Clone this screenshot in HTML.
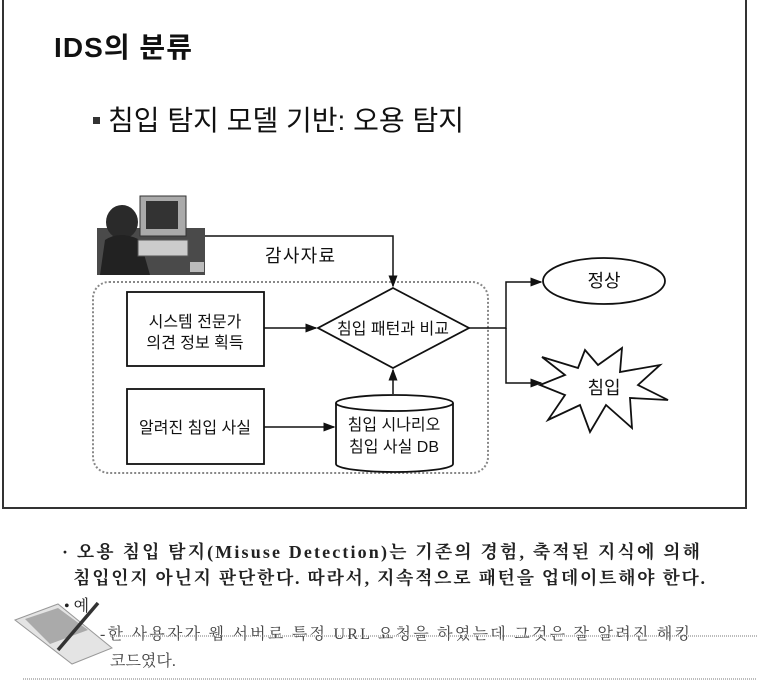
<!DOCTYPE html>
<html><head><meta charset="utf-8"><style>
body{margin:0;background:#fff;width:780px;height:690px;overflow:hidden;position:relative;font-family:"Liberation Sans","Noto Sans CJK KR",sans-serif;}
.a{position:absolute;white-space:nowrap;}
</style></head><body>
<div class="a" style="left:2px;top:-2px;width:741px;height:509px;border:2px solid #333;border-top:none;"></div>
<svg class="a" style="left:0;top:0" width="780" height="690" font-family="Liberation Sans, Noto Sans CJK KR, sans-serif">
<defs><marker id="ar" markerWidth="8" markerHeight="8" refX="7" refY="4" orient="auto"><path d="M0,1 L8,4 L0,7z" fill="#111"/></marker></defs>
<text x="54" y="57" font-size="28" font-weight="bold" fill="#111" textLength="138">IDS의 분류</text>
<rect x="93" y="117" width="7" height="7" fill="#333"/>
<text x="108" y="130" font-size="28" fill="#111" textLength="356">침입 탐지 모델 기반: 오용 탐지</text>
<rect x="97" y="228" width="108" height="47" fill="#4a4a4a"/>
<rect x="140" y="196" width="46" height="40" fill="#aaa" stroke="#333"/>
<rect x="146" y="201" width="32" height="28" fill="#333"/>
<ellipse cx="122" cy="222" rx="16" ry="17" fill="#2a2a2a"/>
<path d="M100,275 L105,240 Q120,230 140,240 L150,275z" fill="#222"/>
<rect x="138" y="240" width="50" height="16" fill="#ccc" stroke="#555"/>
<rect x="190" y="262" width="14" height="10" fill="#bbb"/>
<rect x="93" y="282" width="395" height="191" rx="16" fill="none" stroke="#888" stroke-width="2" stroke-dasharray="2,2"/>
<polyline points="205,236 393,236 393,286" fill="none" stroke="#111" stroke-width="1.5" marker-end="url(#ar)"/>
<text x="265" y="262" font-size="18" fill="#111" textLength="70">감사자료</text>
<rect x="127" y="292" width="137" height="74" fill="#fff" stroke="#111" stroke-width="1.8"/>
<rect x="127" y="389" width="137" height="75" fill="#fff" stroke="#111" stroke-width="1.8"/>
<polygon points="393,288 469,328 393,368 318,328" fill="#fff" stroke="#111" stroke-width="1.8"/>
<line x1="264" y1="328" x2="316" y2="328" stroke="#111" stroke-width="1.5" marker-end="url(#ar)"/>
<line x1="264" y1="427" x2="334" y2="427" stroke="#111" stroke-width="1.5" marker-end="url(#ar)"/>
<path d="M336,403 A58.5,8 0 0 1 453,403 L453,464 A58.5,8 0 0 1 336,464 Z" fill="#fff" stroke="#111" stroke-width="1.8"/>
<path d="M336,403 A58.5,8 0 0 0 453,403" fill="none" stroke="#111" stroke-width="1.8"/>
<line x1="393" y1="394" x2="393" y2="370" stroke="#111" stroke-width="1.5" marker-end="url(#ar)"/>
<polyline points="469,328 506,328 506,282 541,282" fill="none" stroke="#111" stroke-width="1.5" marker-end="url(#ar)"/>
<polyline points="506,328 506,383 541,383" fill="none" stroke="#111" stroke-width="1.5" marker-end="url(#ar)"/>
<ellipse cx="604" cy="281" rx="61" ry="23" fill="#fff" stroke="#111" stroke-width="1.8"/>
<polygon points="542,357 578,368 585,350 598,365 622,348 620,372 660,365 638,385 668,400 630,398 632,428 606,405 590,432 580,405 548,420 565,395 540,385 565,375" fill="#fff" stroke="#111" stroke-width="1.8"/>
<g font-size="16" fill="#111" text-anchor="middle">
<text x="195" y="327">시스템 전문가</text>
<text x="195" y="348">의견 정보 획득</text>
<text x="195" y="433">알려진 침입 사실</text>
<text x="393" y="334">침입 패턴과 비교</text>
<text x="394" y="430">침입 시나리오</text>
<text x="394" y="452">침입 사실 DB</text>
<text x="604" y="287" font-size="18">정상</text>
<text x="604" y="394" font-size="18">침입</text>
</g>
<g font-family="Liberation Serif, Noto Serif CJK KR, serif" fill="#222">
<text x="62" y="558" font-size="18" font-weight="bold" textLength="638" lengthAdjust="spacing">· 오용 침입 탐지(Misuse Detection)는 기존의 경험, 축적된 지식에 의해</text>
<text x="73" y="584" font-size="18" font-weight="bold" textLength="632" lengthAdjust="spacing">침입인지 아닌지 판단한다. 따라서, 지속적으로 패턴을 업데이트해야 한다.</text>
<text x="64" y="611" font-size="16">• 예</text>
<text x="100" y="639" font-size="16" fill="#444" textLength="590" lengthAdjust="spacing">-한 사용자가 웹 서버로 특정 URL 요청을 하였는데 그것은 잘 알려진 해킹</text>
<text x="110" y="666" font-size="16" fill="#444">코드였다.</text>
</g>
<line x1="23" y1="679" x2="757" y2="679" stroke="#777" stroke-width="1" stroke-dasharray="1,1"/>
<line x1="110" y1="636" x2="757" y2="636" stroke="#777" stroke-width="1" stroke-dasharray="1,1"/>
<polygon points="15,620 58,604 112,648 72,664" fill="#e4e4e4" stroke="#999"/>
<polygon points="25,619 58,608 88,630 50,644" fill="#aaa"/>
<line x1="58" y1="650" x2="98" y2="603" stroke="#333" stroke-width="3.5"/>
</svg>
</body></html>
